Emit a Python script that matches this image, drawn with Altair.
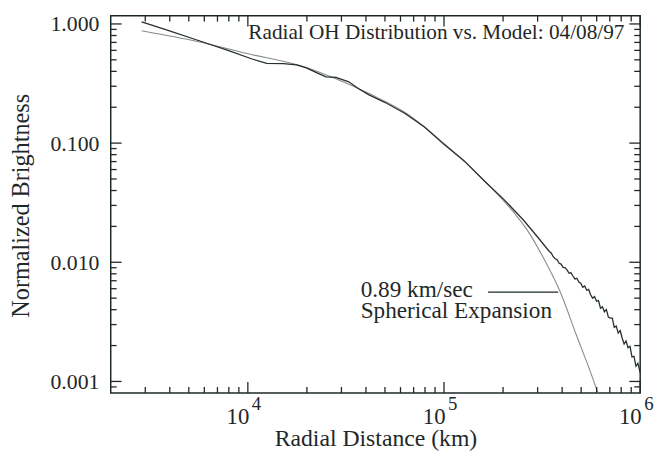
import altair as alt
import pandas as pd

# ---- data ----
# Observed radial OH brightness profile (radial distance km, normalized brightness)
obs_r = [2874, 3919, 5548, 7856, 10500, 12490, 15210, 17690, 19860, 22830,
         25040, 28120, 32700, 36720, 41230, 50220, 63310, 79830, 99520, 126900,
         160100, 201800, 254500, 302900,
         344000, 352000, 360300, 368700, 377300, 386200, 395200, 404400, 413900, 423600,
         433500, 443600, 454000, 464600, 475500, 486600, 498000, 509600, 521500, 533700,
         546200, 559000, 572000, 585400, 599100, 613100, 627400, 642100, 657100, 672500,
         688200, 704300, 720800, 737600, 754900, 772500, 790600, 809100, 828000, 847400,
         867200, 887500, 908200, 929500, 951200, 973500, 1000000]
obs_v = [1.043, 0.884, 0.730, 0.603, 0.508, 0.4677, 0.4641, 0.4527, 0.4275, 0.3847,
         0.3599, 0.3565, 0.3271, 0.2861, 0.2551, 0.2190, 0.1774, 0.1358, 0.0981, 0.0709,
         0.0484, 0.0337, 0.02254, 0.01598,
         0.012320, 0.011995, 0.011133, 0.010696, 0.010494, 0.009796, 0.009647, 0.009075, 0.009040, 0.008636,
         0.008122, 0.008169, 0.007670, 0.007243, 0.007340, 0.006815, 0.006686, 0.006158, 0.006337, 0.005826,
         0.005916, 0.005335, 0.004981, 0.005155, 0.004712, 0.004776, 0.004115, 0.004226, 0.003841, 0.004006,
         0.003465, 0.003399, 0.003393, 0.002845, 0.002922, 0.002547, 0.002677, 0.002315, 0.002060, 0.002186,
         0.001919, 0.001967, 0.001607, 0.001622, 0.001341, 0.001417, 0.001188]

# Spherical expansion model (0.89 km/sec)
model_r = [2874, 5548, 9906, 19860, 28120, 41230, 63310, 99520, 142600, 179800,
           226700, 269800, 321000, 391000, 470700, 560100, 614500]
model_v = [0.878, 0.712, 0.564, 0.4315, 0.3465, 0.2616, 0.1809, 0.1000, 0.0586, 0.0400,
           0.02626, 0.01792, 0.01090, 0.00565, 0.00250, 0.00118, 0.00076]

# axis ticks / labels
x_major = [1e4, 1e5, 1e6]
x_exp = ["4", "5", "6"]
x_minor = [3000, 4000, 5000, 6000, 7000, 8000, 9000,
           20000, 30000, 40000, 50000, 60000, 70000, 80000, 90000,
           200000, 300000, 400000, 500000, 600000, 700000, 800000, 900000]
y_major = [0.001, 0.01, 0.1, 1.0]
y_minor = [0.0009, 0.002, 0.003, 0.004, 0.005, 0.006, 0.007, 0.008, 0.009,
           0.02, 0.03, 0.04, 0.05, 0.06, 0.07, 0.08, 0.09,
           0.2, 0.3, 0.4, 0.5, 0.6, 0.7, 0.8, 0.9]

title_text = "Radial OH Distribution vs. Model: 04/08/97"
legend_lines = ["0.89 km/sec", "Spherical Expansion"]
x_title = "Radial Distance (km)"
y_title = "Normalized Brightness"

# ---- chart ----
W, H = 536, 382
FONT = "Liberation Serif"
INK = "#1f2828"

xs = alt.Scale(type="log", domain=[2000, 1e6])
ys = alt.Scale(type="log", domain=[0.0008, 1.174])

obs = pd.DataFrame({"r": obs_r, "v": obs_v})
mod = pd.DataFrame({"r": model_r, "v": model_v})

x_axis = alt.Axis(values=x_major, labelExpr="'10'", ticks=False, tickSize=0, domain=False,
                  grid=False, labelFont=FONT, labelFontSize=23, labelColor=INK,
                  labelAlign="right", labelBaseline="alphabetic", labelPadding=31,
                  labelOffset=1, labelFlush=False, labelOverlap=False,
                  title=x_title, titleFont=FONT, titleFontSize=24, titleFontWeight="normal",
                  titleColor=INK, titleX=W / 2, titleY=53, titleBaseline="alphabetic",
                  titleAlign="center")
y_axis = alt.Axis(values=y_major, format=".3f", ticks=False, tickSize=0, domain=False,
                  grid=False, labelFont=FONT, labelFontSize=22, labelColor=INK,
                  labelPadding=12, labelFlush=False, labelOverlap=False,
                  labelBaseline="middle", labelAlign="right",
                  title=y_title, titleFont=FONT, titleFontSize=24.5, titleFontWeight="normal",
                  titleColor=INK, titleX=-78, titleY=H / 2 + 1, titleAngle=270,
                  titleBaseline="bottom", titleAlign="center")


def X(field):
    return alt.X(field, scale=xs, axis=x_axis)


def Y(field):
    return alt.Y(field, scale=ys, axis=y_axis)


model_line = alt.Chart(mod).mark_line(color="#8a8a8a", strokeWidth=1.1, clip=True,
                                      interpolate="monotone").encode(x=X("r:Q"), y=Y("v:Q"))
obs_line = alt.Chart(obs).mark_line(color="#263030", strokeWidth=1.3, clip=True).encode(
    x=X("r:Q"), y=Y("v:Q"))

xmaj = pd.DataFrame({"r": x_major, "e": x_exp})
xmin = pd.DataFrame({"r": x_minor})
ymaj = pd.DataFrame({"v": y_major})
ymin = pd.DataFrame({"v": y_minor})


def xticks(df, y0, y1):
    return alt.Chart(df).mark_rule(color=INK, strokeWidth=1.3).encode(
        x=X("r:Q"), y=alt.value(y0), y2=alt.value(y1))


def yticks(df, x0, x1):
    return alt.Chart(df).mark_rule(color=INK, strokeWidth=1.3).encode(
        y=Y("v:Q"), x=alt.value(x0), x2=alt.value(x1))


ticks = [
    xticks(xmaj, H, H - 11), xticks(xmaj, 0, 11),
    xticks(xmin, H, H - 6), xticks(xmin, 0, 6),
    yticks(ymaj, 0, 11), yticks(ymaj, W, W - 11),
    yticks(ymin, 0, 6), yticks(ymin, W, W - 6),
]

exps = alt.Chart(xmaj).mark_text(align="left", baseline="alphabetic", font=FONT,
                                 fontSize=19, color=INK, dx=4).encode(
    x=X("r:Q"), y=alt.value(H + 17.7), text="e:N")

title = alt.Chart(pd.DataFrame({"s": [title_text]})).mark_text(
    align="right", baseline="alphabetic", font=FONT, fontSize=21.5, color=INK).encode(
    text="s:N", x=alt.value(520), y=alt.value(23.7))

leg1 = alt.Chart(pd.DataFrame({"s": [legend_lines[0]]})).mark_text(
    align="left", baseline="alphabetic", font=FONT, fontSize=23.5, color=INK).encode(
    text="s:N", x=alt.value(253), y=alt.value(284.4))
leg2 = alt.Chart(pd.DataFrame({"s": [legend_lines[1]]})).mark_text(
    align="left", baseline="alphabetic", font=FONT, fontSize=23.5, color=INK).encode(
    text="s:N", x=alt.value(253), y=alt.value(306))
leg_line = alt.Chart(pd.DataFrame({"s": [legend_lines[0]]})).mark_rule(
    color=INK, strokeWidth=1.3).encode(x=alt.value(382), x2=alt.value(453), y=alt.value(280))

chart = alt.layer(model_line, obs_line, *ticks, exps, title, leg1, leg2, leg_line).properties(
    width=W, height=H,
    padding={"left": 104, "top": 5, "right": 15, "bottom": 57},
    autosize=alt.AutoSizeParams(type="none"),
    background="white",
).configure(font=FONT).configure_view(stroke=INK, strokeWidth=1.5)

chart.save("out.html", embed_options={"renderer": "svg", "actions": False})
